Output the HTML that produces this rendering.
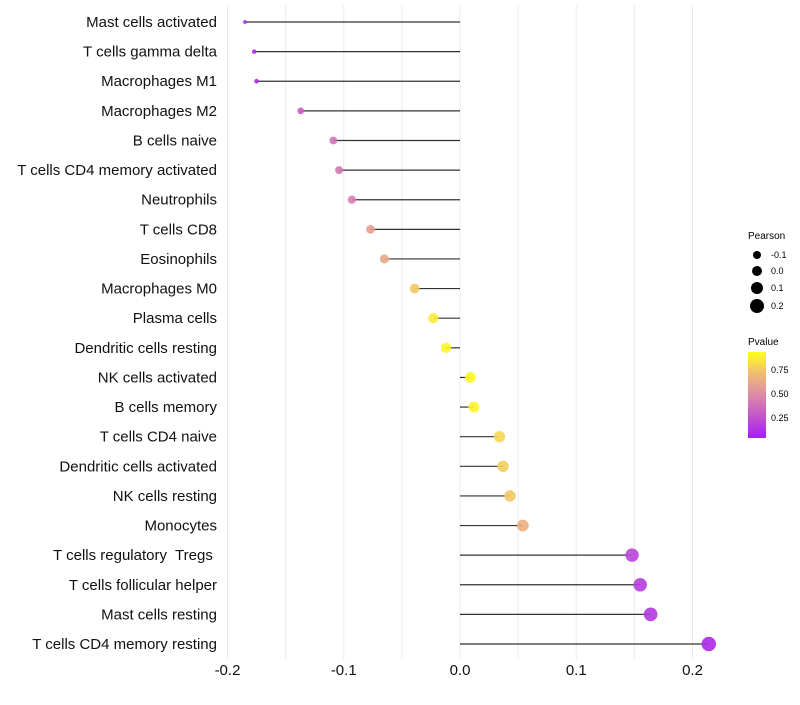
<!DOCTYPE html>
<html><head><meta charset="utf-8"><style>
body{margin:0;background:#fff;font-family:"Liberation Sans",sans-serif}
</style></head><body>
<svg id="chart" width="800" height="700" xmlns="http://www.w3.org/2000/svg" font-family="Liberation Sans, sans-serif">
<defs><linearGradient id="pg" x1="0" y1="1" x2="0" y2="0">
<stop offset="0" stop-color="#a61ef2"/><stop offset="0.5" stop-color="#dd8aa6"/><stop offset="0.78" stop-color="#f2c46c"/><stop offset="1" stop-color="#ffff1a"/></linearGradient></defs>
<g id="grid"></g><g id="marks"></g><g id="labels"></g>
<g font-size="9" fill="#000">
<text x="748" y="239" font-size="10">Pearson</text>
<circle cx="757" cy="255" r="4"/><text x="771" y="258">-0.1</text>
<circle cx="757" cy="271" r="5"/><text x="771" y="274">0.0</text>
<circle cx="757" cy="288" r="6"/><text x="771" y="291">0.1</text>
<circle cx="757" cy="306" r="7"/><text x="771" y="309">0.2</text>
<text x="748" y="345" font-size="10">Pvalue</text>
<rect x="748" y="352" width="18" height="86" fill="url(#pg)"/>
<text x="771" y="373">0.75</text><text x="771" y="397">0.50</text><text x="771" y="421">0.25</text>
</g>
</svg>
<script>
const cats=["Mast cells activated","T cells gamma delta","Macrophages M1","Macrophages M2","B cells naive","T cells CD4 memory activated","Neutrophils","T cells CD8","Eosinophils","Macrophages M0","Plasma cells","Dendritic cells resting","NK cells activated","B cells memory","T cells CD4 naive","Dendritic cells activated","NK cells resting","Monocytes","T cells regulatory\u00a0 Tregs\u00a0","T cells follicular helper","Mast cells resting","T cells CD4 memory resting"];
const pearson=[-0.185,-0.177,-0.175,-0.137,-0.109,-0.104,-0.093,-0.077,-0.065,-0.039,-0.023,-0.012,0.009,0.012,0.034,0.037,0.043,0.054,0.148,0.155,0.164,0.214];
const pvals=[0.05,0.06,0.06,0.3,0.4,0.42,0.45,0.6,0.65,0.8,0.92,0.96,0.97,0.96,0.85,0.82,0.8,0.68,0.18,0.15,0.12,0.06];
const ticks=[-0.2,-0.1,0.0,0.1,0.2];
const xs=v=>460+v*1162.5, ys=i=>22+i*29.62, rs=v=>1.2+9.5*Math.sqrt(Math.max(v+0.19,0));
const stops=[[0,[166,30,242]],[0.5,[221,138,166]],[0.78,[242,196,108]],[1,[255,255,26]]];
function col(p){for(let i=1;i<stops.length;i++){if(p<=stops[i][0]){const a=stops[i-1],b=stops[i],t=(p-a[0])/(b[0]-a[0]);return 'rgb('+a[1].map((c,k)=>Math.round(c+(b[1][k]-c)*t)).join(',')+')';}}return 'rgb(255,255,26)';}
const NS="http://www.w3.org/2000/svg",G=document.getElementById('grid'),M=document.getElementById('marks'),L=document.getElementById('labels');
function mk(tag,at,par){const e=document.createElementNS(NS,tag);for(const k in at)e.setAttribute(k,at[k]);par.appendChild(e);return e;}
for(let v=-0.2;v<=0.2001;v+=0.05){const g=mk('line',{x1:xs(v),x2:xs(v),y1:5,y2:660,stroke:'#ebebeb','stroke-width':1},G);

}
ticks.forEach(t=>{const e=mk('text',{x:xs(t),y:675,'text-anchor':'middle','font-size':15,fill:'#111'},L);e.textContent=t.toFixed(1);

});
cats.forEach((c,i)=>{const y=ys(i);
const t=mk('text',{x:217,y:y+5,'text-anchor':'end','font-size':15,fill:'#111'},L);t.textContent=c;


const l=mk('line',{x1:xs(0),x2:xs(pearson[i]),y1:y,y2:y,stroke:'#333','stroke-width':1.2},M);


const p=mk('circle',{cx:xs(pearson[i]),cy:y,r:rs(pearson[i]),fill:col(pvals[i]),'fill-opacity':0.9},M);

});
</script>
</body></html>
